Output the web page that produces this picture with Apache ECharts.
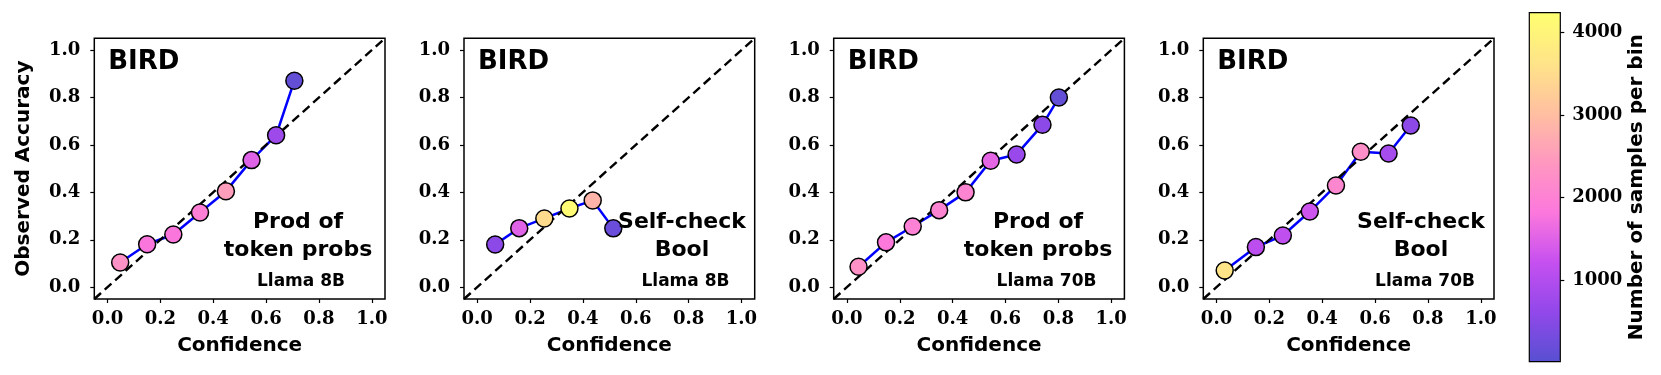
<!DOCTYPE html>
<html>
<head>
<meta charset="utf-8">
<script src="https://cdn.jsdelivr.net/npm/echarts@6/dist/echarts.min.js"></script>
<style>
  html, body { margin: 0; padding: 0; background: #fff; }
  #chart { width: 1661px; height: 375px; }
</style>
</head>
<body>
<div id="chart"></div>
<script>
'use strict'
// reliability diagrams, BIRD
var ticks = [0.0, 0.2, 0.4, 0.6, 0.8, 1.0];
var diagonal = [[-0.05, -0.05], [1.05, 1.05]];

// Llama 8B, prod of token probs
var conf8Prod = [0.048, 0.150, 0.249, 0.350, 0.448, 0.545, 0.638, 0.707];
var acc8Prod = [0.104, 0.181, 0.222, 0.315, 0.405, 0.536, 0.641, 0.871];
var cnt8Prod = [2300, 1800, 1800, 1950, 2500, 1500, 750, 120];

// Llama 8B, self-check bool
var conf8Self = [0.068, 0.159, 0.254, 0.349, 0.437, 0.515];
var acc8Self = [0.180, 0.249, 0.290, 0.332, 0.366, 0.248];
var cnt8Self = [550, 1500, 3500, 4150, 2850, 200];

// Llama 70B, prod of token probs
var conf70Prod = [0.044, 0.148, 0.249, 0.349, 0.449, 0.544, 0.642, 0.740, 0.802];
var acc70Prod = [0.086, 0.189, 0.256, 0.325, 0.400, 0.533, 0.560, 0.685, 0.800];
var cnt70Prod = [2300, 1850, 2000, 2050, 2050, 1550, 700, 550, 120];

// Llama 70B, self-check bool
var conf70Self = [0.031, 0.149, 0.251, 0.353, 0.452, 0.546, 0.651, 0.735];
var acc70Self = [0.070, 0.169, 0.218, 0.319, 0.429, 0.571, 0.564, 0.682];
var cnt70Self = [3650, 1100, 1150, 1300, 2100, 2250, 850, 550];

var cbarMin = 10, cbarMax = 4240;
var cbarTicks = [1000, 2000, 3000, 4000];
var cbarColors = ['#5850d2', '#9248ea', '#c650f0', '#fc78dc', '#ff98c0', '#ffc0a0', '#ffe488', '#ffff70'];

var panels = [
  { conf: conf8Prod, acc: acc8Prod, cnt: cnt8Prod, method: 'Prod of\ntoken probs', model: 'Llama 8B' },
  { conf: conf8Self, acc: acc8Self, cnt: cnt8Self, method: 'Self-check\nBool', model: 'Llama 8B' },
  { conf: conf70Prod, acc: acc70Prod, cnt: cnt70Prod, method: 'Prod of\ntoken probs', model: 'Llama 70B' },
  { conf: conf70Self, acc: acc70Self, cnt: cnt70Self, method: 'Self-check\nBool', model: 'Llama 70B' }
];

var gridLeft = [94.3, 464, 833.7, 1203.3];
var gridTop = 38.3, gridW = 290.7, gridH = 260.7;
var methodX = [298, 682, 1038, 1421];
var modelX = [301, 685.5, 1046.5, 1425];

var sans = 'DejaVu Sans';
var serif = 'DejaVu Serif';
var tickFont = { fontFamily: serif, fontSize: 18, fontWeight: 'bold', color: '#000' };

var chart = echarts.init(document.getElementById('chart'), null, { renderer: 'canvas' });

var grid = [], xAxis = [], yAxis = [], series = [], graphic = [], scatterIdx = [];

panels.forEach(function (p, i) {
  grid.push({
    left: gridLeft[i], top: gridTop, width: gridW, height: gridH,
    show: true, borderColor: '#000', borderWidth: 1.5, backgroundColor: '#fff',
    containLabel: false, outerBoundsMode: 'none'
  });
  xAxis.push({
    type: 'value', gridIndex: i, min: -0.05, max: 1.05,
    axisLine: { show: false, onZero: false },
    axisTick: { show: true, customValues: ticks, length: 4, lineStyle: { color: '#000', width: 1.2 } },
    axisLabel: Object.assign({ customValues: ticks, margin: 11, formatter: function (v) { return v.toFixed(1); } }, tickFont),
    splitLine: { show: false },
    name: 'Confidence', nameLocation: 'middle', nameGap: 37,
    nameTextStyle: { fontFamily: sans, fontSize: 20, fontWeight: 'bold', color: '#000' }
  });
  yAxis.push({
    type: 'value', gridIndex: i, min: -0.05, max: 1.05,
    axisLine: { show: false, onZero: false },
    axisTick: { show: true, customValues: ticks, length: 4, lineStyle: { color: '#000', width: 1.2 } },
    axisLabel: Object.assign({ customValues: ticks, margin: 14, formatter: function (v) { return v.toFixed(1); } }, tickFont),
    splitLine: { show: false },
    name: i === 0 ? 'Observed Accuracy' : '', nameLocation: 'middle', nameGap: 61, nameRotate: 90,
    nameTextStyle: { fontFamily: sans, fontSize: 20, fontWeight: 'bold', color: '#000' }
  });

  series.push({
    type: 'line', xAxisIndex: i, yAxisIndex: i, z: 2,
    data: p.conf.map(function (c, k) { return [c, p.acc[k]]; }),
    symbol: 'none', lineStyle: { color: '#0000ff', width: 2.5 }, silent: true
  });
  series.push({
    type: 'line', xAxisIndex: i, yAxisIndex: i, z: 3,
    data: diagonal, symbol: 'none',
    lineStyle: { color: '#000', width: 2.4, type: [9, 5] }, silent: true
  });
  scatterIdx.push(series.length);
  series.push({
    type: 'scatter', xAxisIndex: i, yAxisIndex: i, z: 4,
    data: p.conf.map(function (c, k) { return [c, p.acc[k], p.cnt[k]]; }),
    symbolSize: 17,
    itemStyle: { borderColor: '#000', borderWidth: 1.5, opacity: 1 }
  });

  graphic.push({
    type: 'text', left: gridLeft[i] + 14, top: 49, z: 10,
    style: { text: 'BIRD', font: 'bold 26px "DejaVu Sans"', fill: '#000' }
  });
  graphic.push({
    type: 'text', x: methodX[i], y: 236.5, z: 10,
    style: { text: p.method, font: 'bold 22px "DejaVu Sans"', fill: '#000', align: 'center', verticalAlign: 'middle', lineHeight: 28 }
  });
  graphic.push({
    type: 'text', x: modelX[i], y: 282, z: 10,
    style: { text: p.model, font: 'bold 17px "DejaVu Sans"', fill: '#000', align: 'center', verticalAlign: 'middle' }
  });
});

// colorbar frame and ticks
grid.push({
  left: 1529.3, top: 12.7, width: 31, height: 349, z: 10,
  show: true, borderColor: '#000', borderWidth: 1.2, backgroundColor: 'transparent',
  containLabel: false, outerBoundsMode: 'none'
});
xAxis.push({ type: 'value', gridIndex: 4, show: false, min: 0, max: 1 });
yAxis.push({
  type: 'value', gridIndex: 4, position: 'right', min: cbarMin, max: cbarMax, z: 10,
  axisLine: { show: false, onZero: false },
  axisTick: { show: true, customValues: cbarTicks, length: 4, lineStyle: { color: '#000', width: 1.2 } },
  axisLabel: Object.assign({ customValues: cbarTicks, margin: 12, formatter: function (v) { return String(v); } }, tickFont),
  splitLine: { show: false },
  name: 'Number of samples per bin', nameLocation: 'middle', nameGap: 64, nameRotate: 90,
  nameTextStyle: { fontFamily: sans, fontSize: 20, fontWeight: 'bold', color: '#000' }
});

chart.setOption({
  animation: false,
  backgroundColor: '#fff',
  grid: grid,
  xAxis: xAxis,
  yAxis: yAxis,
  visualMap: {
    type: 'continuous', seriesIndex: scatterIdx, dimension: 2,
    min: cbarMin, max: cbarMax, calculable: false, hoverLink: false,
    orient: 'vertical', left: 1529.3, top: 12.7, itemWidth: 31, itemHeight: 349, padding: 0,
    text: null, showLabel: false,
    inRange: { color: cbarColors }
  },
  series: series,
  graphic: graphic
});
</script>
</body>
</html>
